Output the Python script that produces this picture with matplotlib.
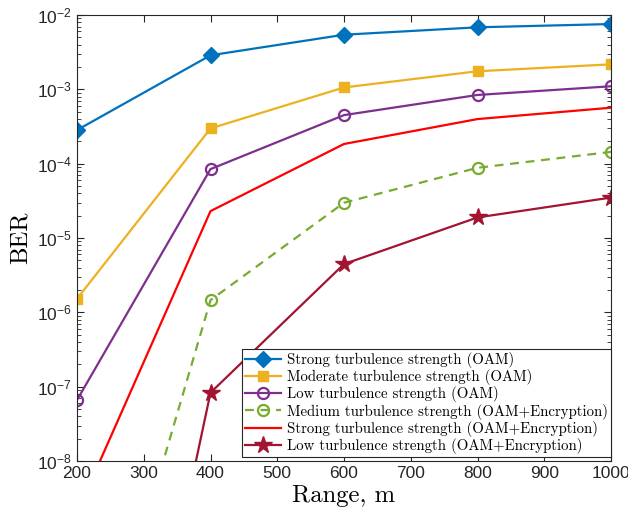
import numpy as np
import matplotlib
matplotlib.use("Agg")
import matplotlib.pyplot as plt
from matplotlib.ticker import LogLocator, FixedLocator

plt.rcParams['mathtext.fontset'] = 'custom'
plt.rcParams['mathtext.rm'] = 'Liberation Sans'
plt.rcParams['mathtext.it'] = 'Liberation Sans:italic'
plt.rcParams['font.family'] = ['Liberation Sans', 'DejaVu Sans']

ranges = [200, 400, 600, 800, 1000]
strong_oam = [2.83e-4, 2.87e-3, 5.43e-3, 6.83e-3, 7.56e-3]
moderate_oam = [1.52e-6, 2.98e-4, 1.06e-3, 1.75e-3, 2.17e-3]
low_oam = [6.6e-8, 8.45e-5, 4.5e-4, 8.4e-4, 1.1e-3]
medium_enc = [1.1e-12, 1.46e-6, 2.98e-5, 8.8e-5, 1.44e-4]
strong_enc = [2.0e-9, 2.3e-5, 1.84e-4, 3.98e-4, 5.66e-4]
low_enc = [3e-16, 8.3e-8, 4.46e-6, 1.89e-5, 3.5e-5]

labels = [
    "Strong turbulence strength (OAM)",
    "Moderate turbulence strength (OAM)",
    "Low turbulence strength (OAM)",
    "Medium turbulence strength (OAM+Encryption)",
    "Strong turbulence strength (OAM+Encryption)",
    "Low turbulence strength (OAM+Encryption)",
]

fig = plt.figure(figsize=(6.28, 5.14), dpi=100)
ax = fig.add_axes([77/628, 1-461/514, (611-77)/628, (461-15)/514])

lw = 1.6
ax.plot(ranges, strong_oam, '-', color='#0072BD', marker='D', ms=8, lw=lw, label=labels[0])
ax.plot(ranges, moderate_oam, '-', color='#EDB120', marker='s', ms=7, lw=lw, label=labels[1])
ax.plot(ranges, low_oam, '-', color='#7E2F8E', marker='o', ms=8, mfc='none', mew=1.6, lw=lw, label=labels[2])
ax.plot(ranges, medium_enc, '--', color='#77AC30', marker='o', ms=8, mfc='none', mew=1.6, lw=lw, dashes=(4, 3), label=labels[3])
ax.plot(ranges, strong_enc, '-', color='#FF0000', lw=lw, label=labels[4])
ax.plot(ranges, low_enc, '-', color='#A2142F', marker='*', ms=13, lw=lw, label=labels[5])

ax.set_yscale('log')
ax.set_xlim(200, 1000)
ax.set_ylim(1e-8, 1e-2)
ax.xaxis.set_major_locator(FixedLocator([200, 300, 400, 500, 600, 700, 800, 900, 1000]))
ax.yaxis.set_major_locator(LogLocator(base=10, numticks=10))
ax.yaxis.set_minor_locator(LogLocator(base=10, subs=np.arange(2, 10), numticks=20))

edge = '#262626'
for s in ax.spines.values():
    s.set_color(edge)
    s.set_linewidth(0.8)
ax.tick_params(which='both', direction='in', top=True, right=True, colors=edge, labelcolor='#262626')
ax.tick_params(which='major', length=5, labelsize=12.5, width=0.8)
ax.tick_params(which='minor', length=3, width=0.6)

ax.set_xlabel('Range, m', fontfamily='cmr10', fontsize=17.8, labelpad=3)
ax.set_ylabel('BER', fontfamily='cmr10', fontsize=17.8, labelpad=4)

leg = ax.legend(loc='lower right', bbox_to_anchor=(1.0, 4/446), prop={'family': 'cmr10', 'size': 10.7},
                frameon=True, fancybox=False, edgecolor='#262626', framealpha=1, borderaxespad=0.0,
                labelspacing=0.08, handlelength=2.4, handletextpad=0.4, borderpad=0.2)
leg.get_frame().set_linewidth(0.8)

fig.savefig('out.png', dpi=100)
